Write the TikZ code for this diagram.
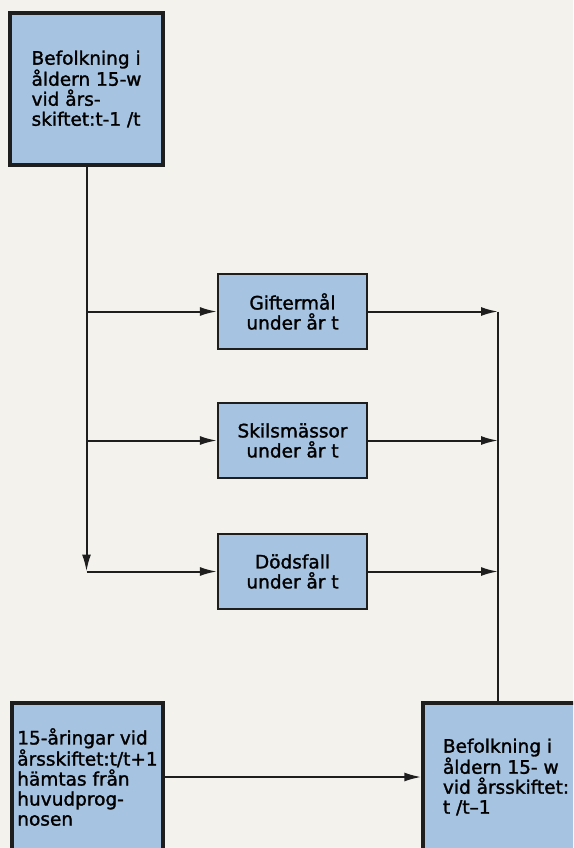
\documentclass[tikz,border=0pt]{standalone}
\usepackage{fontspec}
\setmainfont{DejaVu Sans}
\newfontfamily\boxfont{DejaVu Sans}[Ligatures=TeX, FakeBold=1.5]
\usetikzlibrary{arrows.meta,positioning}
\definecolor{paper}{RGB}{243,242,237}
\definecolor{boxblue}{RGB}{166,196,225}
\definecolor{ink}{RGB}{30,30,30}

\begin{document}
\begin{tikzpicture}[
  x=1pt, y=-1pt,
  font=\boxfont\fontsize{18.5pt}{20pt}\selectfont,
  box/.style={draw=ink, fill=boxblue, line width=2.2pt, align=center, inner sep=0pt, minimum width=149pt, minimum height=75pt},
  stock/.style={draw=ink, fill=boxblue, line width=3.4pt, align=left, inner sep=0pt},
  line/.style={-{Latex[length=17pt,width=9pt]}, line width=2pt, draw=ink}
]
\clip (0,0) rectangle (573,848);
\fill[paper] (0,0) rectangle (573,848);
\node[stock, minimum width=153pt, minimum height=152pt] (start) at (86.5,89) {Befolkning i\\åldern 15-w\\vid års-\\skiftet:t-1 /t};
\node[box] (gift) at (292.5,311.5) {Giftermål\\under år t};
\node[box] (skils) at (292.5,440.5) {Skilsmässor\\under år t};
\node[box] (dods) at (292.5,571.5) {Dödsfall\\under år t};
\node[stock, minimum width=151pt, minimum height=148pt] (nya) at (87.5,777) {15-åringar vid\\årsskiftet:t/t+1\\hämtas från\\huvudprog-\\nosen};
\node[stock, minimum width=166pt, minimum height=148pt] (slut) at (506,777) {Befolkning i\\åldern 15- w\\vid årsskiftet:\\t /t--1};
\coordinate (rail) at (498,311.5);
\draw[line] (start) -- (start |- dods);
\draw[line] (start |- gift) -- (gift);
\draw[line] (start |- skils) -- (skils);
\draw[line] (start |- dods) -- (dods);
\draw[line] (gift) -- (gift -| rail);
\draw[line] (skils) -- (skils -| rail);
\draw[line] (dods) -- (dods -| rail);
\draw[ink, line width=2pt] (rail) -- (rail |- slut.north);
\draw[line] (nya) -- (slut);
\end{tikzpicture}
\end{document}
